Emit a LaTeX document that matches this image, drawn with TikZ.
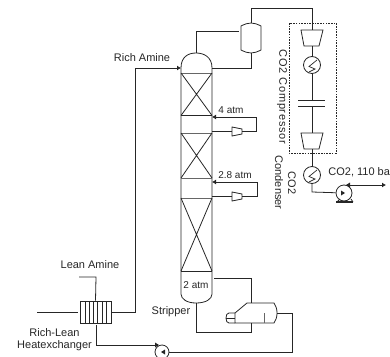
\documentclass[tikz,border=0pt]{standalone}
\usepackage{fontspec}
\setmainfont{Liberation Sans}
\usetikzlibrary{arrows.meta,calc}
\colorlet{ink}{black!85}
\tikzset{
  x=1pt,y=-1pt,
  every path/.style={draw=ink,line width=0.8pt},
  lbl/.style={draw=none,inner sep=0pt,text=ink,font=\fontsize{11}{13}\selectfont,align=center},
  small/.style={lbl,font=\fontsize{10}{12}\selectfont},
  flow/.style={-{Latex[length=4pt,width=5pt]}},
  hx/.style={circle,draw=ink,line width=0.8pt,minimum size=17pt,inner sep=0pt},
  pumpbody/.style={circle,draw=ink,line width=0.8pt,minimum size=16pt,inner sep=0pt},
  boundary/.style={dash pattern=on 1.6pt off 1.1pt,line width=0.7pt},
  tray/.style={line width=1pt,draw=black!60},
  bundle/.style={line width=0.6pt}
}
\newcommand{\zig}[1]{\draw[line width=0.7pt] ($(#1)+(5,-5)$) -- ($(#1)+(-3,1.5)$) -- ($(#1)+(3,4)$) -- ($(#1)+(-3,7)$);}
\begin{document}
\begin{tikzpicture}
\useasboundingbox[draw=none] (0,0) rectangle (390,356);
% column
\coordinate (ct) at (196,53);
\coordinate (cb) at (196,303);
\draw (181,68) .. controls (181,57) and (188,53) .. (ct) .. controls (204,53) and (212,57) .. (212,68)
      -- (212,294) .. controls (212,299) and (206,303) .. (cb) .. controls (187,303) and (181,299) .. (181,294) -- cycle;
\draw[tray] (181,73) -- (212,73);
\draw (181,73) -- (212,115.5) (212,73) -- (181,115.5);
\draw (181,115.5) -- (212,115.5);
\draw[tray] (181,133) -- (212,133);
\draw (181,133) -- (212,178) (212,133) -- (181,178);
\draw[tray] (181,178) -- (212,178);
\draw[tray] (181,198) -- (212,198);
\draw (181,198) -- (212,271) (212,198) -- (181,271);
\draw (181,271) -- (212,271);
% drum
\coordinate (dt) at (251,23);
\coordinate (db) at (251,53);
\draw (241,26) .. controls (245,24) and (248,23) .. (dt) .. controls (254,23) and (257,24) .. (261,26)
   -- (261,50) .. controls (257,52) and (254,53) .. (db) .. controls (248,53) and (245,52) .. (241,50) -- cycle;
\coordinate (dl) at (239,31);
\draw (ct) -- (196,31) -- (dl);
\draw (db) -- (251,68) -- (212,68);
% compressor box
\draw[boundary] (289,23) rectangle (336,153);
\coordinate (c1t) at (312,30);
\coordinate (c1b) at (312,46);
\draw (dt) -- (251,8) -- (312,8) -- (c1t);
\draw (301,30) -- (323,30) -- (319,46) -- (304,46) -- cycle;
\node[hx] (h1) at (312,65) {};
\zig{h1}
\draw (c1b) -- (h1);
\coordinate (s1) at (312,100);
\coordinate (s2) at (312,106);
\draw (h1) -- (s1);
\draw (298,100) -- (325,100) (298,106) -- (325,106);
\coordinate (c2t) at (312,133);
\coordinate (c2b) at (312,149);
\draw (s2) -- (c2t);
\draw (301,133) -- (323,133) -- (319,149) -- (304,149) -- cycle;
\node[hx] (h2) at (312,175) {};
\zig{h2}
\draw (c2b) -- (h2);
% CO2 pump
\node[pumpbody] (p1) at (344,193) {};
\draw (h2) -- (312,192) -- (p1);
\draw (337,202) -- (340,199) (351,199) -- (353,202);
\draw[line width=1.1pt] (336,202) -- (353,202);
\coordinate (co2end) at (386,185);
\draw[flow] (350,185) -- (co2end);
\fill[ink,draw=none] (350,182.5) -- (350,187.5) -- (346,185) -- cycle;
\fill[ink,draw=none] (341,190.5) -- (341,195.5) -- (345,193) -- cycle;
% side coolers
\draw[flow] (256,117) -- (212,117);
\draw (256,117) -- (256,131) -- (242,131);
\draw (232,127) -- (242,129) -- (242,134) -- (232,136) -- cycle;
\draw (232,131) -- (212,131);
\draw[flow] (257,182) -- (212,182);
\draw (257,182) -- (257,196) -- (242,196);
\draw (232,192) -- (242,194) -- (242,199) -- (232,201) -- cycle;
\draw (232,196) -- (212,196);
% exchanger
\node[draw=ink,line width=0.8pt,minimum width=31pt,minimum height=22pt,inner sep=0pt] (ex) at (95.5,312) {};
\foreach \x in {85,89.3,93.5,97.7,102,106}{\draw[bundle] (\x,301) -- (\x,323);}
\coordinate (lean) at (79,277);
\coordinate (feed) at (37,312);
\draw (lean) -- (96,277) -- (ex.north);
\draw (feed) -- (78,312);
\draw[flow] (ex.east) -- (135,312) -- (135,68) -- (181,68);
% reboiler
\draw (235,323) -- (235,313) -- (247,303) -- (274,303) .. controls (276,306) and (277,309) .. (277,313)
   .. controls (277,317) and (276,320) .. (274,323) -- cycle;
\draw (235,313) -- (229,313) .. controls (227,313) and (226,315) .. (226,318) .. controls (226,321) and (227,323) .. (229,323) -- (235,323);
\draw[line width=0.6pt] (226,318) -- (235,318);
\draw[line width=1pt,draw=black!60] (264,313) -- (264,323);
\coordinate (rt) at (251,303);
\coordinate (rb) at (251,323);
\coordinate (rr) at (277,313);
\draw (214,278) -- (251,278) -- (rt);
\draw (cb) -- (196,332) -- (251,332) -- (rb);
% lean pump
\node[pumpbody,minimum size=14pt] (p2) at (162,352) {};
\draw (rr) -- (292,313) -- (292,352) -- (p2);
\draw (96,325) -- (96,345) -- (155,345);
\fill[ink,draw=none] (155,342.5) -- (155,347.5) -- (159,345) -- cycle;
\fill[ink,draw=none] (165,349.5) -- (165,354.5) -- (161,352) -- cycle;
% labels
\node[lbl] (lrich) at (142,58) {Rich Amine};
\node[lbl] (llean) at (90,265) {Lean Amine};
\node[lbl] (lhx) at (54.5,339.5) {Rich-Lean\\[-0.5pt]Heatexchanger};
\node[lbl] (lstrip) at (171,312) {Stripper};
\node[small] (l4) at (231,110) {4 atm};
\node[small] (l28) at (235,175) {2.8 atm};
\node[small] (l2) at (196,285) {2 atm};
\node[lbl,anchor=west] (lco2) at (328,172) {CO2, 110 ba};
\node[lbl,rotate=-90] (lcomp) at (282,97) {\addfontfeatures{LetterSpace=7}CO2 Compressor};
\node[lbl,rotate=-90,anchor=center] (lcond1) at (292,183) {CO2};
\node[lbl,rotate=-90,anchor=center] (lcond2) at (279,182.5) {Condenser};
\end{tikzpicture}
\end{document}
